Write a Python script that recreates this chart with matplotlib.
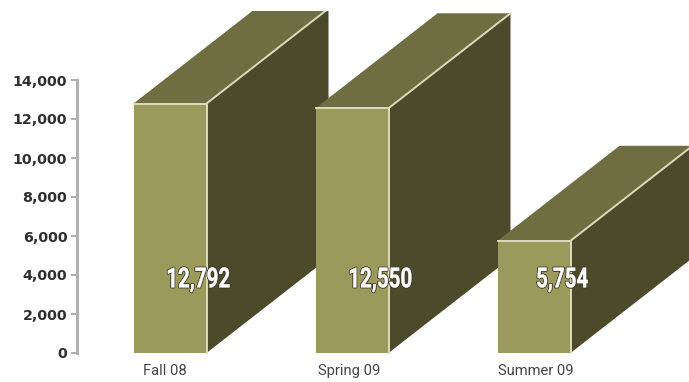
import matplotlib
matplotlib.use('Agg')
import matplotlib.pyplot as plt
import matplotlib.patheffects as pe
from matplotlib.patches import Polygon, Rectangle
from matplotlib.transforms import Affine2D

terms = ['Fall 08', 'Spring 09', 'Summer 09']
counts = [12792, 12550, 5754]
value_labels = ['12,792', '12,550', '5,754']
y_ticks = [0, 2000, 4000, 6000, 8000, 10000, 12000, 14000]

W, H = 689, 382
px_per_cat = 182
px_per_unit = 273 / 14000
bar_w = 73 / px_per_cat
depth_x = 122 / px_per_cat
depth_y = 95 / px_per_unit
term_shift = [-5, -3, 2]

front_col = '#9b9a5c'
top_col = '#6e6e42'
side_col = '#4b4b2b'
edge_col = '#dcdabb'


# no condensed font is installed, so squeeze the glyphs sideways
class Squeeze(pe.AbstractPathEffect):
    def __init__(self, sx, lw, stroke):
        super().__init__()
        self.sx = sx
        self.lw = lw
        self.stroke = stroke

    def draw_path(self, renderer, gc, tpath, affine, rgbFace=None):
        box = tpath.get_extents()
        cx = (box.x0 + box.x1) / 2
        t = Affine2D().translate(-cx, 0).scale(self.sx, 1).translate(cx, 0) + affine
        gc0 = renderer.new_gc()
        gc0.copy_properties(gc)
        gc0.set_linewidth(self.lw)
        gc0.set_foreground(self.stroke)
        renderer.draw_path(gc0, tpath, t, rgbFace)
        gc0.restore()


fig = plt.figure(figsize=(W / 100, H / 100), dpi=100, facecolor='white')
ax = fig.add_axes([77 / W, 29 / H, 612 / W, 273 / H])
ax.set_xlim((77 - 170) / px_per_cat, (689 - 170) / px_per_cat)
ax.set_ylim(0, 14000)

# the boxes stop 11px under the top of the picture
clip = Rectangle((-1, -2000), 5, 2000 + 342 / px_per_unit, transform=ax.transData)

for i, v in enumerate(counts):
    l, r = i - bar_w / 2, i + bar_w / 2
    side = Polygon([(r, 0), (r + depth_x, depth_y), (r + depth_x, v + depth_y), (r, v)],
                   fc=side_col, ec='none', clip_on=True)
    top = Polygon([(l, v), (r, v), (r + depth_x, v + depth_y), (l + depth_x, v + depth_y)],
                  fc=top_col, ec='none', clip_on=True)
    front = Rectangle((l, 0), bar_w, v, fc=front_col, ec='none', clip_on=False)
    for p in (side, top, front):
        ax.add_patch(p)
    side.set_clip_path(clip)
    top.set_clip_path(clip)
    ax.plot([l, r, r], [v, v, 0], color=edge_col, lw=1.4, clip_on=False, solid_joinstyle='miter')
    diag, = ax.plot([r, r + depth_x], [v, v + depth_y], color=edge_col, lw=1.4, clip_on=True)
    diag.set_clip_path(clip)
    ax.text(i + 28 / px_per_cat, 3750, value_labels[i], color='white', fontsize=20,
            family='Roboto', fontweight='bold', ha='center', va='center', zorder=5,
            path_effects=[Squeeze(0.74, 1.5, '#3a3a28'), Squeeze(0.74, 0.3, 'white')])

for s in ['top', 'right', 'bottom']:
    ax.spines[s].set_visible(False)
ax.spines['left'].set_color('#b0b0b0')
ax.spines['left'].set_linewidth(2.2)

ax.set_yticks(y_ticks)
ax.set_yticklabels([f'{t:,}' for t in y_ticks], fontsize=10.3, fontweight='bold',
                   family='DejaVu Sans', color='#2f2f2f')
ax.tick_params(axis='y', length=4, width=1.2, color='#a0a0a0', pad=3)

ax.set_xticks([i + s / px_per_cat for i, s in enumerate(term_shift)])
ax.set_xticklabels(terms, fontsize=10.6, family='Roboto', color='#444444', va='baseline')
ax.tick_params(axis='x', length=0, pad=16)

fig.savefig('out.png', dpi=100, facecolor='white')
